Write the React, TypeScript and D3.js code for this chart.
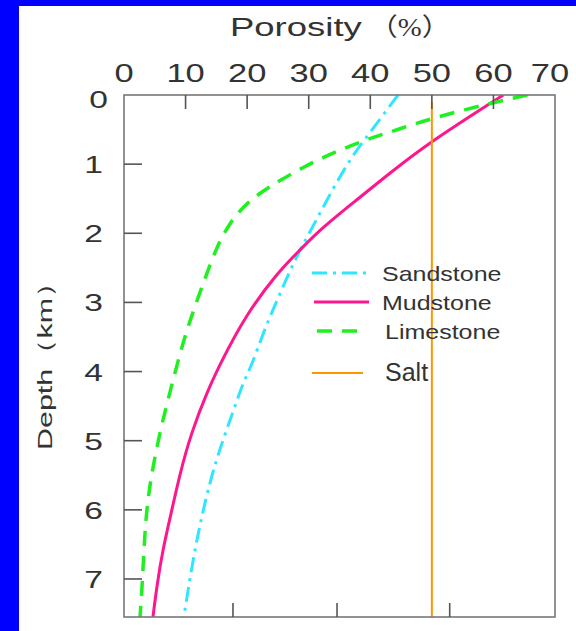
import React from 'react';
import * as d3 from 'd3';

// depth in km, porosity in %
const SAND_DEPTH = [0, 0.6, 0.86, 1.36, 1.8, 2.19, 2.53, 2.96, 3.44, 3.9, 4.17, 4.51, 5.18, 5.72, 6.23, 6.73, 7.28, 7.55];
const SAND_POROSITY = [44.5, 39.5, 37.2, 33.9, 31.3, 28.9, 27.0, 24.9, 22.6, 20.8, 19.3, 18.0, 15.3, 13.6, 12.3, 11.2, 10.2, 9.7];

const MUD_DEPTH = [0, 0.65, 1.09, 1.56, 1.95, 2.24, 2.58, 3.21, 3.84, 4.27, 4.89, 5.47, 6.11, 6.58, 7.06, 7.55];
const MUD_POROSITY = [61.6, 50.2, 43.7, 37.2, 31.8, 28.6, 24.8, 19.6, 15.9, 13.6, 10.9, 9.1, 7.5, 6.3, 5.4, 4.7];

const LIME_DEPTH = [0, 0.13, 0.33, 0.49, 0.64, 0.81, 1.04, 1.32, 1.55, 1.84, 2.19, 2.57, 2.96, 3.4, 3.9, 4.46, 4.89, 5.38, 5.82, 6.3, 6.84, 7.31, 7.55];
const LIME_POROSITY = [65.5, 59.0, 50.2, 44.8, 39.5, 34.6, 29.1, 23.7, 20.0, 17.2, 15.1, 13.5, 11.9, 10.2, 8.6, 7.0, 5.8, 4.7, 3.9, 3.4, 3.1, 2.8, 2.6];

const SALT_DEPTH = [0.1, 7.55];
const SALT_POROSITY = [50, 50];

const X_TICK_LABELS = [0, 10, 20, 30, 40, 50, 60, 70];
const X_TOP_TICKS = [10, 20, 30, 40, 50, 60];
const X_BOTTOM_TICKS = [17.7, 34.6, 52.9];
const Y_TICKS = [0, 1, 2, 3, 4, 5, 6, 7];

const SERIES = [
  { name: 'Sandstone', depth: SAND_DEPTH, porosity: SAND_POROSITY, color: '#2ee6ff', width: 3, dash: '15 6 3 6' },
  { name: 'Mudstone', depth: MUD_DEPTH, porosity: MUD_POROSITY, color: '#ff168e', width: 3, dash: null },
  { name: 'Limestone', depth: LIME_DEPTH, porosity: LIME_POROSITY, color: '#1ff01f', width: 3.5, dash: '15 10' },
  { name: 'Salt', depth: SALT_DEPTH, porosity: SALT_POROSITY, color: '#ff9500', width: 2, dash: null },
];

const W = 576;
const H = 631;
const FONT = '"Liberation Sans", Arial, sans-serif';
const TEXT = '#333';
const AXIS = '#777';

const x = d3.scaleLinear().domain([0, 70]).range([124, 555]);
const y = d3.scaleLinear().domain([0, 7.55]).range([95, 617]);

// the original text is drawn wider than normal glyphs
const Stretch = ({ tx, ty, sx, size, anchor = 'start', rotate = 0, family = FONT, children }: any) => (
  <text
    transform={`translate(${tx},${ty}) rotate(${rotate}) scale(${sx},1)`}
    fontFamily={family}
    fontSize={size}
    fill={TEXT}
    textAnchor={anchor}
  >
    {children}
  </text>
);

export default function App() {
  const line = (s: any) =>
    d3
      .line<number>()
      .x((_, i) => x(s.porosity[i]))
      .y((d) => y(d))
      .curve(d3.curveBasis)(s.depth) as string;

  const [x0, x1] = x.range();
  const [y0, y1] = y.range();

  const legendY = [273, 302, 331, 373];
  const legendX = [[312, 368], [314, 369], [317, 364], [312, 363]];

  return (
    <div style={{ position: 'fixed', left: 0, top: 0 }}>
      <svg width={W} height={H} style={{ display: 'block' }}>
        <rect x={0} y={0} width={W} height={H} fill="#0000ff" />
        <rect x={19} y={6} width={W - 19} height={H - 6} fill="#ffffff" />

        <defs>
          <clipPath id="plot">
            <rect x={x0} y={y0} width={x1 - x0} height={y1 - y0} />
          </clipPath>
        </defs>

        {/* title */}
        <Stretch tx={230} ty={36} sx={1.46} size={25}>Porosity</Stretch>
        <Stretch tx={369} ty={36} sx={1.15} size={25} family={'"Liberation Serif", "Noto Sans CJK SC", serif'}>
          （%）
        </Stretch>

        {/* x tick labels on top */}
        {X_TICK_LABELS.map((t) => (
          <Stretch key={t} tx={x(t) - (t === 70 ? 5 : 0)} ty={82} sx={1.38} size={25} anchor="middle">
            {t}
          </Stretch>
        ))}

        {/* y tick labels */}
        {Y_TICKS.map((t) => (
          <Stretch key={t} tx={t === 0 ? 108 : 103} ty={y(t) + 9 + (t === 0 ? 4 : 0)} sx={1.4} size={24} anchor="end">
            {t}
          </Stretch>
        ))}

        <Stretch tx={52} ty={450} sx={1.45} size={21} rotate={-90}>
          Depth（km）
        </Stretch>

        {/* curves */}
        <g clipPath="url(#plot)">
          {SERIES.map((s) => (
            <path
              key={s.name}
              d={line(s)}
              fill="none"
              stroke={s.color}
              strokeWidth={s.width}
              strokeDasharray={s.dash || undefined}
            />
          ))}
        </g>

        {/* frame and ticks */}
        <rect x={x0} y={y0} width={x1 - x0} height={y1 - y0} fill="none" stroke={AXIS} strokeWidth={1.6} />
        {X_TOP_TICKS.map((t) => (
          <line key={'t' + t} x1={x(t)} x2={x(t)} y1={y0} y2={y0 + 14} stroke="#555" strokeWidth={1.6} />
        ))}
        {X_BOTTOM_TICKS.map((t) => (
          <line key={'b' + t} x1={x(t)} x2={x(t)} y1={y1} y2={y1 - 14} stroke="#555" strokeWidth={1.6} />
        ))}
        {Y_TICKS.filter((t) => t > 0).map((t) => (
          <line key={'y' + t} x1={x0} x2={x0 + 18} y1={y(t)} y2={y(t)} stroke="#555" strokeWidth={1.6} />
        ))}

        {/* legend */}
        {SERIES.map((s, i) => (
          <g key={'lg' + s.name}>
            <line
              x1={legendX[i][0]}
              x2={legendX[i][1]}
              y1={legendY[i]}
              y2={legendY[i]}
              stroke={s.color}
              strokeWidth={s.width}
              strokeDasharray={s.dash || undefined}
            />
            {s.name === 'Salt' ? (
              <Stretch tx={385} ty={legendY[i] + 8} sx={1} size={25}>
                {s.name}
              </Stretch>
            ) : (
              <Stretch tx={i === 2 ? 385 : 382} ty={legendY[i] + 8} sx={1.19} size={21}>
                {s.name}
              </Stretch>
            )}
          </g>
        ))}
      </svg>
    </div>
  );
}
